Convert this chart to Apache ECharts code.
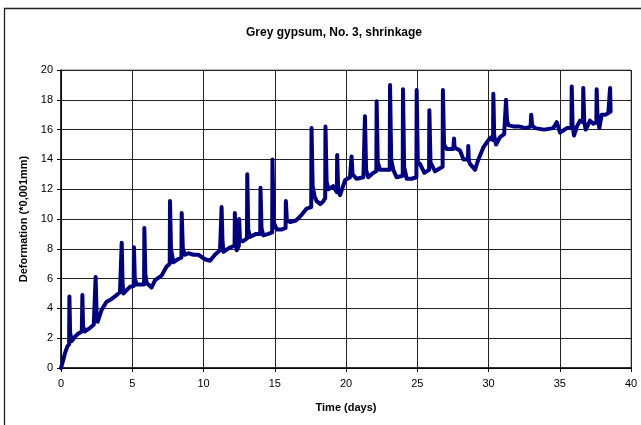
<!DOCTYPE html>
<html>
<head>
<meta charset="utf-8">
<script src="https://cdn.jsdelivr.net/npm/echarts@6/dist/echarts.min.js"></script>
<style>
html,body{margin:0;padding:0;background:#fff;}
#c{width:641px;height:425px;}
</style>
</head>
<body>
<div id="c"></div>
<script>
var titleText = "Grey gypsum, No. 3, shrinkage";
var xName = "Time (days)";
var yName = "Deformation (*0,001mm)";
var xTicks = [0, 5, 10, 15, 20, 25, 30, 35, 40];
var yTicks = [0, 2, 4, 6, 8, 10, 12, 14, 16, 18, 20];

var times = [0,0.15,0.28,0.45,0.57,0.59,0.64,0.75,0.98,1.2,1.46,1.5,1.55,1.68,2.04,2.3,2.41,2.43,2.5,2.57,2.85,3.2,3.5,3.79,4.14,4.24,4.26,4.32,4.37,4.84,5.1,5.12,5.18,5.31,5.6,5.83,5.85,5.92,6.01,6.36,6.6,7.06,7.4,7.63,7.65,7.72,7.88,8.2,8.45,8.47,8.55,8.7,8.94,9.3,9.64,10.1,10.46,10.8,11.16,11.25,11.27,11.33,11.4,11.86,12.18,12.2,12.26,12.33,12.48,12.5,12.56,12.75,13.05,13.07,13.14,13.26,13.7,13.98,14.0,14.07,14.2,14.55,14.82,14.84,14.92,15.14,15.5,15.76,15.78,15.85,16.07,16.5,16.9,17.24,17.56,17.58,17.66,17.8,17.94,18.2,18.41,18.54,18.56,18.64,18.76,19.1,19.36,19.38,19.45,19.58,19.93,20.28,20.37,20.39,20.46,20.75,21.22,21.31,21.33,21.41,21.56,21.92,22.13,22.15,22.23,22.39,22.86,23.07,23.09,23.17,23.32,23.55,23.98,24.0,24.08,24.26,24.61,24.94,24.96,25.04,25.19,25.5,25.83,25.85,25.93,26.25,26.6,26.78,26.8,26.88,27.07,27.53,27.56,27.58,27.62,28.0,28.24,28.56,28.58,28.62,28.7,29.05,29.29,29.64,30.0,30.22,30.32,30.34,30.4,30.53,30.81,31.1,31.21,31.23,31.3,31.4,31.8,32.21,32.6,32.95,33.0,33.06,33.26,33.9,34.55,34.79,35.02,35.5,35.82,35.84,35.9,36.0,36.2,36.42,36.63,36.65,36.72,36.82,37.12,37.36,37.57,37.59,37.66,37.78,37.94,38.2,38.41,38.51,38.53,38.57];
var deformation = [0,0.5,1.0,1.45,1.6,4.8,2.4,1.8,2.1,2.3,2.45,4.9,2.8,2.45,2.7,2.9,3.0,6.1,3.6,3.1,3.9,4.45,4.6,4.8,5.1,5.2,8.4,5.8,5.0,5.45,5.5,8.1,6.0,5.6,5.6,5.6,9.4,6.3,5.7,5.4,5.9,6.2,6.8,7.0,11.2,8.0,7.1,7.3,7.4,10.4,8.0,7.6,7.7,7.6,7.6,7.3,7.2,7.6,7.9,8.0,10.8,8.6,7.8,8.1,8.2,10.4,8.5,7.9,8.2,10.0,8.6,8.5,8.7,13.0,9.3,8.8,9.0,9.0,12.1,9.4,8.9,9.0,9.1,14.0,9.8,9.3,9.3,9.4,11.2,9.9,9.8,9.9,10.3,10.7,10.8,16.1,12.2,11.5,11.2,11.0,11.2,11.4,16.2,12.5,12.0,12.2,11.8,14.3,12.0,11.6,12.6,12.8,12.8,14.2,13.0,12.7,12.8,12.9,16.9,13.3,12.8,13.1,13.2,17.9,13.8,13.3,13.3,13.3,19.0,14.0,13.3,12.8,12.9,18.7,13.5,12.7,12.7,12.8,18.65,13.8,13.7,13.1,13.3,17.3,13.8,13.2,13.4,13.5,18.66,15.0,14.7,14.7,14.8,15.4,14.8,14.6,14.0,14.0,14.9,13.9,13.7,13.3,14.0,14.8,15.3,15.5,15.3,18.4,15.6,15.0,15.5,15.7,15.8,18.0,16.6,16.3,16.2,16.2,16.1,16.2,17.0,16.3,16.1,16.0,16.1,16.5,15.8,16.1,16.1,18.9,16.3,15.6,16.2,16.6,16.5,18.8,16.5,16.0,16.6,16.4,16.5,18.7,16.6,16.1,17.0,17.0,17.1,17.1,18.8,17.2];

var pts = times.map(function (t, i) { return [t, deformation[i]]; });
var FONT = "'Liberation Sans', Arial, sans-serif";

var chart = echarts.init(document.getElementById('c'), null, {renderer: 'canvas'});
chart.setOption({
  animation: false,
  backgroundColor: '#fff',
  graphic: [{
    type: 'rect', silent: true, z: -1,
    shape: {x: 4.5, y: 8.5, width: 700, height: 500},
    style: {fill: 'none', stroke: '#222', lineWidth: 1.3}
  }],
  title: {
    text: titleText, left: 329, top: 22, textAlign: 'center',
    textStyle: {fontFamily: FONT, fontSize: 12, fontWeight: 'bold', color: '#000'}
  },
  grid: {left: 61, right: 10, top: 70, bottom: 57, show: true, borderColor: '#808080', borderWidth: 1, backgroundColor: '#fff'},
  xAxis: {
    type: 'value', min: xTicks[0], max: xTicks[xTicks.length - 1], interval: 5,
    name: xName, nameLocation: 'middle', nameGap: 34,
    nameTextStyle: {fontFamily: FONT, fontSize: 11, fontWeight: 'bold', color: '#000'},
    axisLine: {show: true, onZero: false, lineStyle: {color: '#000', width: 1.5}},
    axisTick: {show: true, length: 4, lineStyle: {color: '#000'}},
    axisLabel: {fontFamily: FONT, fontSize: 11, color: '#000', margin: 10},
    splitLine: {show: true, lineStyle: {color: '#222', width: 1}}
  },
  yAxis: {
    type: 'value', min: yTicks[0], max: yTicks[yTicks.length - 1], interval: 2,
    name: yName, nameLocation: 'middle', nameGap: 29, nameRotate: 90,
    nameTextStyle: {fontFamily: FONT, fontSize: 11, fontWeight: 'bold', color: '#000'},
    axisLine: {show: true, onZero: false, lineStyle: {color: '#000', width: 1.5}},
    axisTick: {show: true, length: 4, lineStyle: {color: '#000'}},
    axisLabel: {fontFamily: FONT, fontSize: 11, color: '#000', margin: 8},
    splitLine: {show: true, lineStyle: {color: '#222', width: 1}}
  },
  series: [{
    type: 'line', data: pts, showSymbol: false, symbol: 'none',
    lineStyle: {color: '#000080', width: 4, join: 'round', cap: 'round'},
    clip: true
  }]
});
</script>
</body>
</html>
